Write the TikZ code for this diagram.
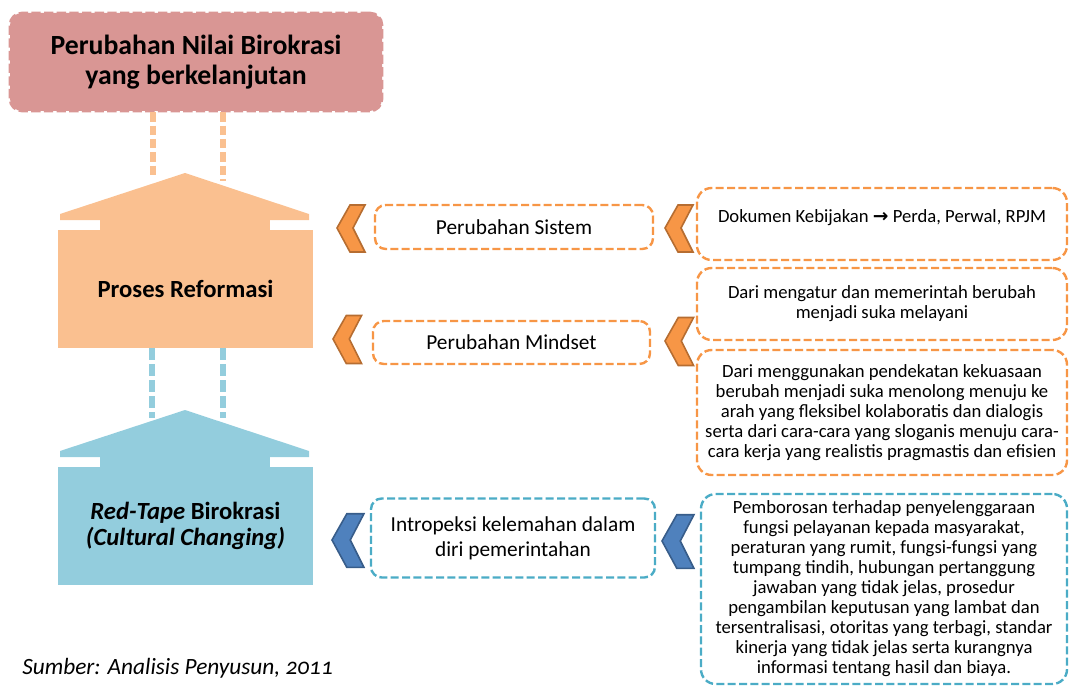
\documentclass[tikz,border=0pt]{standalone}
\usepackage{fontspec}
\setmainfont{Carlito}
\newfontfamily\arrowfont{DejaVu Sans}
\usetikzlibrary{calc}

\definecolor{titlepink}{RGB}{217,150,148}
\definecolor{reformorange}{RGB}{250,192,144}
\definecolor{tapeblue}{RGB}{147,205,221}
\definecolor{chevorange}{RGB}{247,150,70}
\definecolor{chevorangedk}{RGB}{182,109,49}
\definecolor{chevblue}{RGB}{79,129,189}
\definecolor{chevbluedk}{RGB}{56,93,138}
\definecolor{boxorange}{RGB}{247,150,70}
\definecolor{boxblue}{RGB}{75,172,198}

\begin{document}
\begin{tikzpicture}[
    x=0.75pt, y=-0.75pt,
    % Node styles
    titlebox/.style={rounded corners=9pt, fill=titlepink, draw=titlepink, line width=2pt, dash pattern=on 7pt off 2.5pt, align=center, inner sep=0pt, font=\fontsize{20.8}{22.5}\selectfont\bfseries},
    housebody/.style={inner sep=0pt, align=center, font=\fontsize{18.5}{20}\selectfont\bfseries},
    midbox/.style={rounded corners=8pt, line width=1.8pt, dash pattern=on 6pt off 2.5pt, fill=white, inner sep=0pt, align=center, font=\fontsize{16}{18.5}\selectfont},
    rightbox/.style={rounded corners=11pt, line width=1.8pt, dash pattern=on 6pt off 2.5pt, fill=white, inner sep=0pt, align=center, font=\fontsize{14}{15}\selectfont},
    % Dashed links between the levels
    linkorange/.style={line width=4.5pt, draw=reformorange, dash pattern=on 7pt off 3pt},
    linkblue/.style={line width=4.5pt, draw=tapeblue, dash pattern=on 9pt off 3pt},
    % Chevron arrows
    chevron/.style={line width=1.2pt, line join=miter}
]
    \useasboundingbox (0,0) rectangle (1070,688);

    % =========================================================================
    % 1. TOP: TITLE BOX
    % =========================================================================
    \node[titlebox, minimum width=279pt, minimum height=73.5pt] (title) at (196,62)
        {Perubahan Nilai Birokrasi\\yang berkelanjutan};

    % =========================================================================
    % 2. LEFT: TWO HOUSES
    % =========================================================================
    \foreach \off/\col/\name/\txt in {0/reformorange/reform/{Proses Reformasi},
        237/tapeblue/tape/{\textit{Red-Tape} Birokrasi\\\textit{(Cultural Changing)}}} {
        \begin{scope}[shift={(0,\off)}]
            \fill[\col] (60,220) -- (60,214) -- (185,173) -- (309,214) -- (309,220) -- cycle;
            \fill[\col] (100,218) rectangle (270,232);
            \node[housebody, fill=\col, minimum width=191.25pt, minimum height=88.5pt] (\name) at (185.5,289) {\txt};
        \end{scope}
    }

    % --- Dashed links ---
    \coordinate (roofA) at (153,178);
    \coordinate (roofB) at (223,181);
    \draw[linkorange] (title.south -| roofA) -- (roofA);
    \draw[linkorange] (title.south -| roofB) -- (roofB);
    \coordinate (tapeA) at (152,418);
    \coordinate (tapeB) at (223,418);
    \draw[linkblue] (reform.south -| tapeA) -- (tapeA);
    \draw[linkblue] (reform.south -| tapeB) -- (tapeB);

    % =========================================================================
    % 3. MIDDLE: CHANGE BOXES
    % =========================================================================
    \node[midbox, draw=boxorange, minimum width=208.5pt, minimum height=33pt] (sistem) at (514,227) {Perubahan Sistem};
    \node[midbox, draw=boxorange, minimum width=207.75pt, minimum height=32.25pt] (mindset) at (511.5,342.5) {Perubahan Mindset};
    \node[midbox, draw=boxblue, minimum width=213pt, minimum height=59.25pt] (intro) at (513,538)
        {Intropeksi kelemahan dalam\\diri pemerintahan};

    % =========================================================================
    % 4. RIGHT: DESCRIPTION BOXES
    % =========================================================================
    \node[rightbox, draw=boxorange, minimum width=277.5pt, minimum height=54pt, text height=9pt, text depth=12pt] (dokumen) at (882,224)
        {Dokumen Kebijakan {\arrowfont\bfseries →} Perda, Perwal, RPJM};
    \node[rightbox, draw=boxorange, minimum width=277.5pt, minimum height=54pt] (mengatur) at (882,304)
        {Dari mengatur dan memerintah berubah\\menjadi suka melayani};
    \node[rightbox, draw=boxorange, minimum width=277.5pt, minimum height=93.75pt] (menolong) at (882,412.5)
        {Dari menggunakan pendekatan kekuasaan\\berubah menjadi suka menolong menuju ke\\arah yang fleksibel kolaboratis dan dialogis\\serta dari cara-cara yang sloganis menuju cara-\\cara kerja yang realistis pragmastis dan efisien};
    \node[rightbox, draw=boxblue, minimum width=274.5pt, minimum height=142.5pt] (boros) at (884,589)
        {Pemborosan terhadap penyelenggaraan\\fungsi pelayanan kepada masyarakat,\\peraturan yang rumit, fungsi-fungsi yang\\tumpang tindih, hubungan pertanggung\\jawaban yang tidak jelas, prosedur\\pengambilan keputusan yang lambat dan\\tersentralisasi, otoritas yang terbagi, standar\\kinerja yang tidak jelas serta kurangnya\\informasi tentang hasil dan biaya.};

    % --- Chevrons (tip x / tip y / scale / fill / border) ---
    \foreach \tx/\ty/\s/\cf/\cd in {337/228/1/chevorange/chevorangedk, 665/228/1/chevorange/chevorangedk,
        333/339/1.02/chevorange/chevorangedk, 665/341/1.02/chevorange/chevorangedk,
        332/540/1.14/chevblue/chevbluedk, 662/541/1.14/chevblue/chevbluedk} {
        \draw[chevron, fill=\cf, draw=\cd] (\tx,\ty) -- ++(13*\s,-23*\s) -- ++(15*\s,0)
            -- ++(-12*\s,23*\s) -- ++(12*\s,24*\s) -- ++(-15*\s,0) -- cycle;
    }

    % =========================================================================
    % 5. SOURCE NOTE
    % =========================================================================
    \node[anchor=west, inner sep=0pt, font=\fontsize{17.5}{19}\selectfont\itshape\addfontfeatures{Numbers=OldStyle}] (sumber) at (22,668)
        {Sumber: Analisis Penyusun, 2011};

\end{tikzpicture}
\end{document}
